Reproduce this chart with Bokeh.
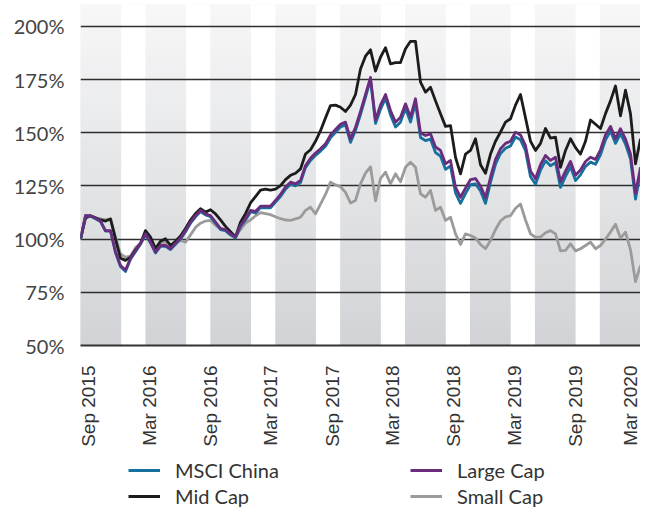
import math
import numpy as np
import pandas as pd
from bokeh.plotting import figure
from bokeh.layouts import column
from bokeh.models import (FixedTicker, DatetimeTickFormatter, PrintfTickFormatter,
                          Legend, LegendItem)
from bokeh.embed import file_html
from bokeh.resources import INLINE

# ---------------- data ----------------
dates = pd.date_range("2015-08-08", periods=113, freq="15D")

tick_dates = ["2015-09-01", "2016-03-01", "2016-09-01", "2017-03-01", "2017-09-01",
              "2018-03-01", "2018-09-01", "2019-03-01", "2019-09-01", "2020-03-01"]
y_ticks = [50, 75, 100, 125, 150, 175, 200]

msci_china = [
    100, 111, 110.8, 109.6, 108.3, 103.8, 103.8, 93.7, 87.1, 84.8,
    90.6, 94.1, 97.6, 102.1, 98.2, 93.5, 96.6, 96.6, 95.1, 97.6,
    100, 103.5, 107.5, 110.5, 113, 111.4, 110.6, 107.5, 104.5, 104,
    102, 100.5, 106, 109, 112.8, 112.3, 114.8, 114.7, 114.7, 117.4,
    120, 123.5, 125.8, 125, 126.6, 133.6, 137, 139.4, 141.4, 143.7,
    147.7, 150.2, 152.7, 153.7, 145.5, 151.1, 158.6, 166.6, 175, 154.4,
    161, 166.3, 158.4, 152.7, 155, 161.5, 155, 164, 147.8, 146.3,
    147, 140.7, 139, 132.8, 134.4, 121.7, 116.8, 121.4, 125.6, 126,
    122.6, 116.8, 126.7, 135.2, 140.3, 142.7, 143.8, 148, 146.7, 141.6,
    129.3, 125.8, 132.4, 136.8, 134.5, 136, 124.3, 129.5, 134, 127.5,
    130.2, 134.2, 136.2, 135.2, 139.6, 146.7, 150.8, 145, 149.5, 144.7,
    137.6, 118.8, 131.5]

large_cap = [
    100, 111, 111, 109.8, 108.5, 104, 104, 94, 87.6, 85.5,
    91, 94.5, 98, 102.5, 98.6, 93.9, 97, 97, 95.5, 98,
    100.5, 104, 108, 111, 113.5, 111.9, 111.1, 108, 105, 104.5,
    102.5, 101, 106.5, 109.6, 113.5, 113, 115.5, 115.5, 115.5, 118.2,
    121, 124.5, 126.8, 126, 127.6, 134.6, 138, 140.5, 142.5, 144.8,
    149, 151.5, 154, 155, 147, 152.6, 160, 168, 176, 156,
    163, 168, 160.5, 155, 157.3, 163.6, 157.3, 166, 150, 148.7,
    149.5, 143.3, 141.7, 135.4, 137, 124.4, 119.7, 124, 128, 128.5,
    125, 119.5, 129.1, 137.5, 142.5, 145, 146, 150.3, 149, 144,
    132, 128.4, 135, 139.3, 137, 138.5, 127, 132, 136.5, 130,
    132.5, 136.5, 138.5, 137.5, 142, 149, 153, 147.2, 151.9, 147,
    140.1, 121.5, 133.8]

mid_cap = [
    100, 110, 111, 110, 109, 108.5, 109.5, 100, 91, 90,
    91.5, 95, 98, 104, 101, 95.5, 99, 100.2, 97, 99,
    101.5, 105, 109, 112, 114.3, 112.7, 113.8, 111.9, 109, 106,
    103.5, 101, 108, 112, 117, 120, 123, 123.5, 123, 123.5,
    125.2, 128, 130, 131, 133, 140, 142, 146, 151, 157,
    162.8, 163, 162, 160, 163, 168, 180, 186, 189, 179,
    185.5, 190, 182.4, 183, 183, 189.5, 193, 193, 173.8, 169.1,
    171.4, 165, 158.9, 153, 153.4, 138.5, 130.7, 140, 141.7, 147.2,
    135, 131, 140, 146, 150.3, 155, 156.6, 163, 168, 157,
    146, 141.7, 145, 152, 147.5, 147.9, 133.8, 141.7, 147.2, 143,
    140, 146, 156, 154, 152, 159, 165, 172, 158, 170,
    158.9, 135.4, 147.2]

small_cap = [
    100, 110, 111, 110, 109.5, 109, 109.5, 101, 93, 91.5,
    92, 96, 98, 103, 99.5, 96, 98.5, 98.6, 97, 98.5,
    99.4, 98.6, 102, 105.5, 107.5, 108.5, 108.8, 106.5, 105, 104,
    102, 101, 104.5, 107.5, 109, 111, 112.5, 112, 111.5, 110.5,
    109.6, 109, 108.8, 109.5, 110.3, 113.5, 115, 111.9, 116.5, 121,
    126.8, 125.5, 124.6, 122, 117, 118.2, 126, 131, 134, 118,
    128.5, 131.5, 126, 130.7, 127, 133.8, 136.2, 133.8, 121.3, 119.7,
    122.9, 113.5, 115, 108.8, 110.3, 102.5, 97.5, 102.5, 101.7, 100.5,
    97.5, 95.5, 99.4, 104.5, 108.5, 110.5, 111, 114.5, 116.5, 109,
    102.5, 100.9, 101, 103, 104, 102.5, 94.5, 94.7, 97.8, 94.5,
    95.5, 97, 98.6, 95.5, 97, 100, 103.3, 107, 100.5, 103.3,
    95, 80, 87.6]

series_names = ["MSCI China", "Large Cap", "Mid Cap", "Small Cap"]
series_colors = ["#16719f", "#6a2d7d", "#1c1c1c", "#9b9b9b"]
series_values = [msci_china, large_cap, mid_cap, small_cap]

# ---------------- main figure ----------------
x0 = dates[0].value / 1e6
x1 = dates[-1].value / 1e6
y0, y1 = 50, 210.3

p = figure(width=640, height=450, x_axis_type="datetime",
           x_range=(x0, x1), y_range=(y0, y1),
           output_backend="svg", toolbar_location=None,
           min_border_left=80, min_border_right=0, min_border_top=4,
           min_border_bottom=105)
p.background_fill_color = "white"
p.border_fill_color = "white"
p.outline_line_color = None

# gradient background (vertical) + white columns
n = 40
ys = np.linspace(y0, y1, n + 1)
bot = np.array([209, 211, 214])
top = np.array([247, 247, 248])
cols = []
for i in range(n):
    t = (i + 0.5) / n
    c = bot + (top - bot) * t
    cols.append("#%02x%02x%02x" % tuple(int(round(v)) for v in c))
p.quad(left=x0, right=x1, bottom=ys[:-1], top=ys[1:], fill_color=cols,
       line_color=cols, line_width=1, level="image")

gw, ww = 41.0, 24.4
unit = (x1 - x0) / (9 * gw + 8 * ww)
wl, wr = [], []
for k in range(8):
    s = x0 + (k + 1) * gw * unit + k * ww * unit
    wl.append(s)
    wr.append(s + ww * unit)
p.quad(left=wl, right=wr, bottom=y0, top=y1, fill_color="white",
       line_color=None, level="image")

# lines (drawn small cap first, large cap on top)
lw = 2.8
for idx in [3, 2, 0, 1]:
    p.line(dates, series_values[idx], line_color=series_colors[idx],
           line_width=lw, line_join="round")

# axes
tick_ms = [pd.Timestamp(d).value / 1e6 for d in tick_dates]
p.xaxis.ticker = FixedTicker(ticks=tick_ms)
p.xaxis.formatter = DatetimeTickFormatter(days="%b %Y", months="%b %Y", years="%b %Y")
p.xaxis.major_label_orientation = math.pi / 2
p.xaxis.major_label_text_font = "Liberation Sans"
p.xaxis.major_label_text_font_size = "19px"
p.xaxis.major_label_text_color = "#333333"
p.xaxis.major_label_standoff = 14
p.xaxis.axis_line_color = "#333333"
p.xaxis.axis_line_width = 2
p.xaxis.major_tick_line_color = None
p.xaxis.minor_tick_line_color = None

p.yaxis.ticker = FixedTicker(ticks=y_ticks)
p.yaxis.formatter = PrintfTickFormatter(format="%d%%")
p.yaxis.major_label_text_font = "Lato"
p.yaxis.major_label_text_font_size = "20px"
p.yaxis.major_label_text_color = "#444444"
p.yaxis.major_label_standoff = 10
p.yaxis.axis_line_color = None
p.yaxis.major_tick_line_color = None
p.yaxis.minor_tick_line_color = None

p.xgrid.visible = False
p.ygrid.ticker = FixedTicker(ticks=y_ticks)
p.ygrid.grid_line_color = "#2e2e2e"
p.ygrid.grid_line_width = 1.5

# ---------------- legend figure ----------------
# the series are plotted here again outside the visible range, only to key the legend
q = figure(width=640, height=58, x_range=(0, 1), y_range=(0, 1),
           output_backend="svg", toolbar_location=None,
           x_axis_location=None, y_axis_location=None,
           min_border=0)
q.outline_line_color = None
q.grid.visible = False
q.background_fill_color = "white"
q.border_fill_color = "white"

lr = [q.line(dates, series_values[i], line_color=series_colors[i], line_width=lw)
      for i in range(4)]


def make_legend(items, loc, h):
    return Legend(items=items, orientation="horizontal", location=loc,
                  glyph_width=32, glyph_height=h, label_standoff=15,
                  label_width=220, label_height=h, spacing=15,
                  padding=0, margin=0, border_line_color=None,
                  background_fill_alpha=0,
                  label_text_font="Lato", label_text_font_size="20px",
                  label_text_color="#333333")


leg1 = make_legend([LegendItem(label=series_names[0], renderers=[lr[0]]),
                    LegendItem(label=series_names[1], renderers=[lr[1]])], (48, 26), 24)
leg2 = make_legend([LegendItem(label=series_names[2], renderers=[lr[2]]),
                    LegendItem(label=series_names[3], renderers=[lr[3]])], (48, 0), 22)
q.add_layout(leg1)
q.add_layout(leg2)

layout = column(p, q, spacing=0)
open("out.html", "w").write(file_html(layout, INLINE))
